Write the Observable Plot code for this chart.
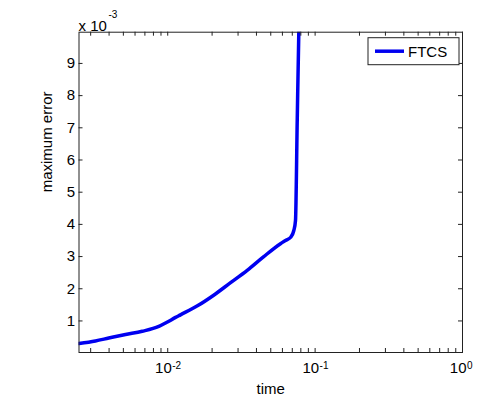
<!DOCTYPE html>
<html>
<head>
<meta charset="utf-8">
<script src="https://cdn.jsdelivr.net/npm/d3@7"></script>
<script src="https://cdn.jsdelivr.net/npm/@observablehq/plot@0.6"></script>
<style>
  html, body { margin: 0; padding: 0; background: #fff; }
  #chart { width: 479px; height: 405px; }
</style>
</head>
<body>
<div id="chart"></div>
<script>
// time values (log scale) and maximum error (in units of 1e-3)
const times  = [0.0025, 0.00323, 0.00398, 0.00517, 0.00671, 0.0087, 0.0098, 0.0113, 0.0122, 0.0159, 0.0205, 0.02655, 0.0346, 0.0446, 0.0582, 0.0630, 0.0683, 0.0717, 0.0736, 0.0756, 0.0775, 0.0785];
const errors = [0.30,   0.38,    0.47,    0.58,    0.68,    0.83,   0.95,   1.11,   1.19,   1.47,   1.80,   2.18,    2.57,   2.99,   3.40,   3.50,   3.60,   3.81,   4.12,   7.20,   9.95,   11.0];
const seriesNames = ["FTCS"];
const yTicks = [1, 2, 3, 4, 5, 6, 7, 8, 9];
const xMajor = [0.01, 0.1, 1];
const xMajorExp = ["-2", "-1", "0"];
const xMinor = [0.003, 0.004, 0.005, 0.006, 0.007, 0.008, 0.009,
                0.02, 0.03, 0.04, 0.05, 0.06, 0.07, 0.08, 0.09,
                0.2, 0.3, 0.4, 0.5, 0.6, 0.7, 0.8, 0.9];
const xLabel = "time";
const yLabel = "maximum error";
const yScaleBase = "x 10";
const yScaleExp = "-3";

const data = times.map((t, i) => ({t, e: errors[i]}));
const xMajorRows = xMajor.map((v, i) => ({v, exp: xMajorExp[i]}));

const W = 479, H = 405, mL = 78.5, mR = 17, mT = 31.7, mB = 53;
const innerW = W - mL - mR, innerH = H - mT - mB;
const tick = 4;
const font = "'Liberation Sans', Arial, Helvetica, sans-serif";

const legend = (index, scales, values, dim) => {
  const g = d3.create("svg:g").attr("font-family", font);
  const x0 = dim.width - dim.marginRight - 94, y0 = dim.marginTop + 6;
  seriesNames.forEach((name, i) => {
    g.append("rect").attr("x", x0).attr("y", y0).attr("width", 91).attr("height", 27)
      .attr("fill", "white").attr("stroke", "#222").attr("stroke-width", 1);
    g.append("line").attr("x1", x0 + 7).attr("x2", x0 + 36)
      .attr("y1", y0 + 13.5).attr("y2", y0 + 13.5)
      .attr("stroke", "#0000f0").attr("stroke-width", 3.5);
    g.append("text").attr("x", x0 + 40).attr("y", y0 + 13.5)
      .attr("text-anchor", "start")
      .attr("dy", "0.36em").attr("font-size", 15).attr("fill", "black").text(name);
  });
  return g.node();
};

const allX = xMajor.concat(xMinor);

const chart = Plot.plot({
  width: W, height: H,
  marginLeft: mL, marginRight: mR, marginTop: mT, marginBottom: mB,
  style: {fontFamily: font, background: "white", color: "black", overflow: "visible"},
  x: {type: "log", domain: [0.0025, 1], axis: null},
  y: {domain: [0.02, 9.97], axis: null},
  marks: [
    Plot.line(data, {x: "t", y: "e", stroke: "#0000f0", strokeWidth: 3.5, curve: "monotone-x", clip: true}),
    // ticks inside (bottom & top)
    Plot.ruleX(allX, {x: d => d, insetTop: innerH - tick, stroke: "#222"}),
    Plot.ruleX(allX, {x: d => d, insetBottom: innerH - tick, stroke: "#222"}),
    // ticks inside (left & right)
    Plot.ruleY(yTicks, {y: d => d, insetRight: innerW - tick, stroke: "#222"}),
    Plot.ruleY(yTicks, {y: d => d, insetLeft: innerW - tick, stroke: "#222"}),
    Plot.frame({stroke: "#222"}),
    // y tick labels
    Plot.text(yTicks, {y: d => d, text: d => String(d), frameAnchor: "left", textAnchor: "end", dx: -4, fontSize: 15, fill: "black"}),
    // x tick labels 10^n
    Plot.text(xMajorRows, {x: "v", text: () => "10", frameAnchor: "bottom", textAnchor: "end", dx: 4, dy: 20, fontSize: 15, fill: "black"}),
    Plot.text(xMajorRows, {x: "v", text: "exp", frameAnchor: "bottom", textAnchor: "start", dx: 4.5, dy: 16, fontSize: 10, fill: "black"}),
    // axis labels
    Plot.text([xLabel], {text: d => d, frameAnchor: "bottom", dy: 41, fontSize: 15, fill: "black"}),
    Plot.text([yLabel], {text: d => d, frameAnchor: "left", rotate: -90, dx: -32, fontSize: 15, fill: "black"}),
    // exponent multiplier
    Plot.text([yScaleBase], {text: d => d, frameAnchor: "top-left", textAnchor: "start", dx: -0.5, dy: -12, fontSize: 15, fill: "black"}),
    Plot.text([yScaleExp], {text: d => d, frameAnchor: "top-left", textAnchor: "start", dx: 29.5, dy: -21, fontSize: 10, fill: "black"}),
    legend
  ]
});
document.getElementById("chart").appendChild(chart);
</script>
</body>
</html>
